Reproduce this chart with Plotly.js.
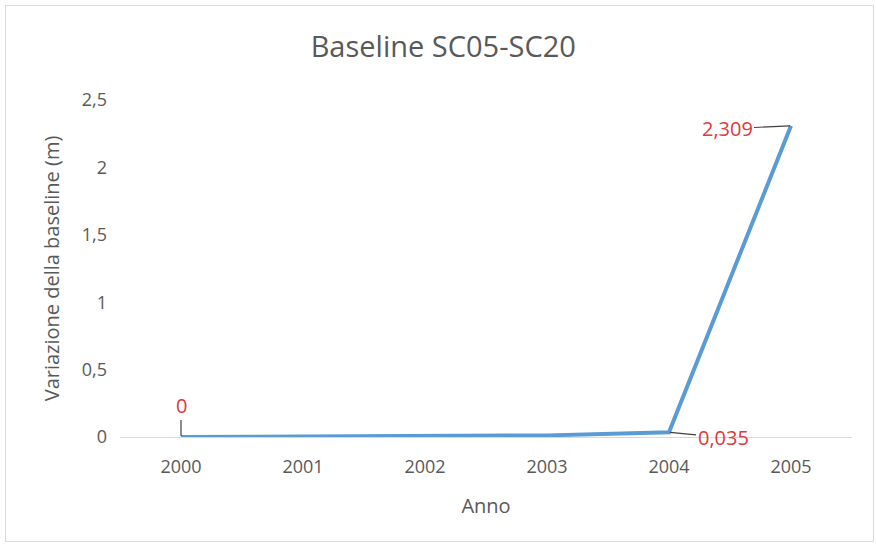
<!DOCTYPE html>
<html>
<head>
<meta charset="utf-8">
<script src="https://cdn.plot.ly/plotly-3.0.1.min.js"></script>
<style>
html,body{margin:0;padding:0;background:#fff;}
#wrap{position:relative;width:876px;height:547px;}
#chart{width:876px;height:547px;}
#frame{position:absolute;left:5px;top:5px;width:867px;height:535px;border:1px solid #d9d9d9;pointer-events:none;}
</style>
</head>
<body>
<div id="wrap"><div id="chart"></div><div id="frame"></div></div>
<script>
const years = ['2000','2001','2002','2003','2004','2005'];
const baseline = [0, 0.002, 0.005, 0.012, 0.035, 2.309];
const labelYears = ['2000','2004','2005'];
const labelValues = [0, 0.035, 2.309];
const labelTexts = ['0','0,035','2,309'];
const yTicks = [0, 0.5, 1, 1.5, 2, 2.5];
const yTickText = ['0','0,5','1','1,5','2','2,5'];

const font = 'Open Sans, Liberation Sans, sans-serif';
const grey = '#595959';
const red = '#e0393b';

const offsets = [[0,-32],[54,5],[-64,3]];
const annotations = labelYears.map((yr,i)=>({
  x: years.indexOf(yr), y: labelValues[i], xref:'x', yref:'y',
  text: labelTexts[i], showarrow:true, arrowhead:0, arrowwidth:1.2,
  arrowcolor:'#404040', ax: offsets[i][0], ay: offsets[i][1],
  standoff: 1,
  font:{family:font,size:20,color:red}
}));

Plotly.newPlot('chart',[{
  x: years, y: baseline, type:'scatter', mode:'lines',
  line:{color:'#5b9bd5',width:4}, hoverinfo:'skip'
}],{
  width:876,height:547,
  margin:{l:120,r:24,t:100,b:110},
  paper_bgcolor:'#fff',plot_bgcolor:'#fff',
  separators:',.',
  showlegend:false,
  title:{text:'Baseline SC05-SC20',x:0.506,xanchor:'center',y:0.915,yanchor:'middle',
    font:{family:font,size:29,color:grey}},
  xaxis:{type:'category',range:[-0.5,5.5],showgrid:false,zeroline:false,
    showline:true,linecolor:'#d9d9d9',linewidth:1,ticks:'',ticklabelstandoff:13,
    tickfont:{family:font,size:18,color:grey},
    title:{text:'Anno',font:{family:font,size:20,color:grey},standoff:22}},
  yaxis:{range:[0,2.5],tickvals:yTicks,ticktext:yTickText,showgrid:false,
    zeroline:false,showline:false,ticks:'',ticklen:0,ticklabelstandoff:12,
    tickfont:{family:font,size:18,color:grey},
    title:{text:'Variazione della baseline (m)',font:{family:font,size:20,color:grey},standoff:16}},
  annotations: annotations
},{displayModeBar:false,staticPlot:true});
</script>
</body>
</html>
